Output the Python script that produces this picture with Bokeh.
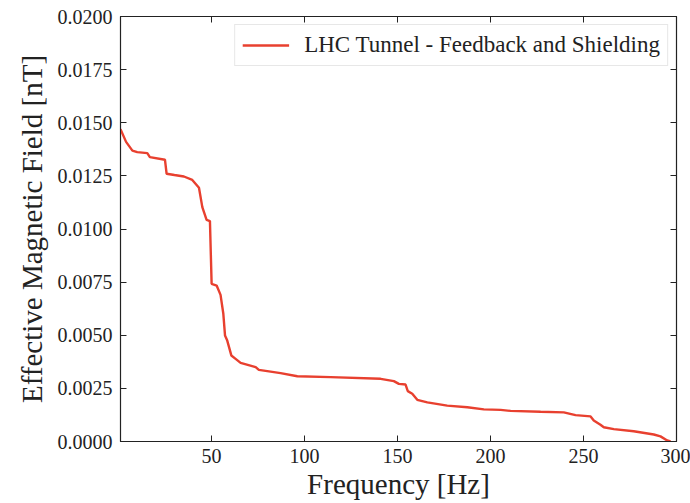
from bokeh.plotting import figure
from bokeh.models import FixedTicker, PrintfTickFormatter, LinearAxis, Range1d, Legend, LegendItem
from bokeh.embed import file_html
from bokeh.resources import INLINE

freq = [1, 4, 7.4, 10, 15.4, 16.8, 24.9, 25.8, 30, 35.1, 39.6, 43.2, 45, 47.3, 49.1, 50, 52.7,
        54.8, 56.3, 57.2, 58.4, 60.6, 62.9, 65.6, 73.7, 75.4, 87.1, 96.1, 114, 140.9, 148,
        150.7, 154.3, 155.5, 157.9, 160.6, 166, 176.7, 187.5, 196.4, 205.4, 210.8, 226.9,
        239.4, 245.7, 253.8, 255.5, 259.1, 260.9, 266.3, 277, 287.8, 291.4, 295, 296.8]
field = [0.01470, 0.01410, 0.01369, 0.01362, 0.01357, 0.01338, 0.01326, 0.01260, 0.01254,
         0.01247, 0.01231, 0.01194, 0.01103, 0.01043, 0.01037, 0.00742, 0.00734,
         0.00690, 0.00601, 0.00499, 0.00475, 0.00405, 0.00389, 0.00370, 0.00350, 0.00337,
         0.00322, 0.00307, 0.00303, 0.00295, 0.00284,
         0.00271, 0.00268, 0.00237, 0.00225, 0.00196, 0.00184, 0.00169, 0.00161, 0.00151,
         0.00149, 0.00144, 0.00140,
         0.00137, 0.00124, 0.00118, 0.00099, 0.00079, 0.00067, 0.00058, 0.00048, 0.00033,
         0.00024, 0.00005, 0.0]
x_ticks = [50, 100, 150, 200, 250, 300]
y_ticks = [0.0, 0.0025, 0.005, 0.0075, 0.01, 0.0125, 0.015, 0.0175, 0.02]
series_name = "LHC Tunnel - Feedback and Shielding"

FONT = "Liberation Serif"

p = figure(width=690, height=503, output_backend="svg", toolbar_location=None,
           x_range=Range1d(1, 300), y_range=Range1d(0, 0.02),
           min_border_left=120, min_border_right=14, min_border_top=16, min_border_bottom=62)
p.background_fill_color = "white"
p.border_fill_color = "white"
p.outline_line_color = "#222222"
p.outline_line_width = 1.2
p.grid.visible = False

r = p.line(freq, field, line_color="#e8402f", line_width=2.4)

def style(ax, labels=True):
    ax.axis_line_color = "#222222"
    ax.major_tick_in = 6
    ax.major_tick_out = 0
    ax.minor_tick_in = 0
    ax.minor_tick_out = 0
    ax.major_tick_line_color = "#222222"
    ax.major_label_text_font = FONT
    if labels:
        ax.major_label_text_color = "#222222"
        ax.major_label_text_font_size = "20px"
    else:
        ax.major_label_text_color = None
        ax.major_label_text_font_size = "1px"
        ax.major_label_standoff = 0
    ax.axis_label_text_font = FONT
    ax.axis_label_text_font_style = "normal"
    ax.axis_label_text_color = "#222222"

p.xaxis.ticker = FixedTicker(ticks=x_ticks)
p.yaxis.ticker = FixedTicker(ticks=y_ticks)
p.yaxis.formatter = PrintfTickFormatter(format="%.4f")
p.xaxis.axis_label = "Frequency [Hz]"
p.yaxis.axis_label = "Effective Magnetic Field [nT]"
style(p.xaxis[0])
style(p.yaxis[0])
p.xaxis.axis_label_text_font_size = "29px"
p.yaxis.axis_label_text_font_size = "29px"
p.xaxis.major_label_standoff = 7
p.yaxis.major_label_standoff = 8
p.xaxis.axis_label_standoff = 2
p.yaxis.axis_label_standoff = 7

top = LinearAxis(ticker=FixedTicker(ticks=x_ticks))
right = LinearAxis(ticker=FixedTicker(ticks=y_ticks))
style(top, labels=False)
style(right, labels=False)
p.add_layout(top, "above")
p.add_layout(right, "right")

leg = Legend(items=[LegendItem(label=series_name, renderers=[r])], location="top_right")
leg.label_text_font = FONT
leg.label_text_font_size = "23px"
leg.label_text_color = "#222222"
leg.border_line_color = "#d0d0d0"
leg.border_line_width = 1
leg.glyph_width = 47
leg.label_standoff = 15
leg.padding = 7
leg.margin = 8
leg.background_fill_alpha = 0.9
p.add_layout(leg, "center")

open("out.html", "w").write(file_html(p, INLINE))
